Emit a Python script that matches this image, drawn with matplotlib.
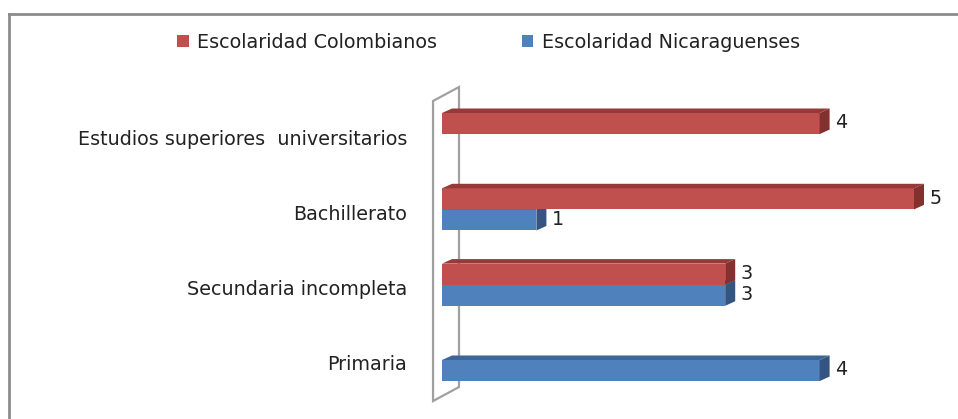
import matplotlib.pyplot as plt
from matplotlib.patches import Polygon, Patch

categorias = ["Primaria", "Secundaria incompleta", "Bachillerato",
              "Estudios superiores  universitarios"]
colombianos = [0, 3, 5, 4]
nicaraguenses = [4, 3, 1, 0]

plt.rcParams['font.family'] = ['DejaVu Sans']

fig = plt.figure(figsize=(9.58, 4.19), dpi=100)
ax = fig.add_axes([0, 0, 1, 1])
# pixel mapping: value 0 at x=442, 94.4 px per unit; category y=0 at py=360, 75.3 px per unit
ax.set_xlim(-442 / 94.4, (958 - 442) / 94.4)
ax.set_ylim((360 - 419) / 75.3, 360 / 75.3)
ax.axis('off')

h = 0.28            # bar thickness
dx, dy = 0.106, 0.06  # 3D depth offset
fs = 13.8

# back wall outline
wall = Polygon([(-0.095, -0.545), (-0.095, 3.44), (0.18, 3.625), (0.18, -0.359)],
               closed=True, fill=False, edgecolor='#a0a0a0', lw=1.6, zorder=1)
ax.add_patch(wall)


def bar3d(y0, val, front, top, side):
    if val <= 0:
        return
    ax.add_patch(Polygon([(0, y0), (val, y0), (val, y0 + h), (0, y0 + h)],
                         closed=True, facecolor=front, edgecolor='none', zorder=3))
    ax.add_patch(Polygon([(0, y0 + h), (val, y0 + h), (val + dx, y0 + h + dy), (dx, y0 + h + dy)],
                         closed=True, facecolor=top, edgecolor='none', zorder=3))
    ax.add_patch(Polygon([(val, y0), (val + dx, y0 + dy), (val + dx, y0 + h + dy), (val, y0 + h)],
                         closed=True, facecolor=side, edgecolor='none', zorder=3))
    ax.text(val + dx + 0.06, y0 + h / 2 + 0.01, str(val), ha='left', va='center',
            fontsize=fs, color='#222222', zorder=4)


for i in range(len(categorias)):
    bar3d(i - h, nicaraguenses[i], '#4F81BD', '#3D6696', '#34557F')
    bar3d(i, colombianos[i], '#C0504D', '#953A38', '#84302E')
    ax.text(-0.37, i - 0.066, categorias[i], ha='right', va='center',
            fontsize=fs, color='#222222')

handles = [Patch(facecolor='#C0504D', label='Escolaridad Colombianos'),
           Patch(facecolor='#4F81BD', label='Escolaridad Nicaraguenses')]
fig.legend(handles=handles, loc='center', bbox_to_anchor=(0.51, 1 - 42 / 419), ncol=2,
           frameon=False, fontsize=fs, handlelength=0.6, handleheight=0.6,
           handletextpad=0.45, columnspacing=4.4, labelcolor='#222222')

# chart border (left and top visible)
fig.add_artist(plt.Line2D([9 / 958, 9 / 958], [0, 1 - 14 / 419], color='#8c8c8c', lw=2))
fig.add_artist(plt.Line2D([9 / 958, 1], [1 - 14 / 419, 1 - 14 / 419], color='#8c8c8c', lw=2))

fig.savefig('out.png', dpi=100)
